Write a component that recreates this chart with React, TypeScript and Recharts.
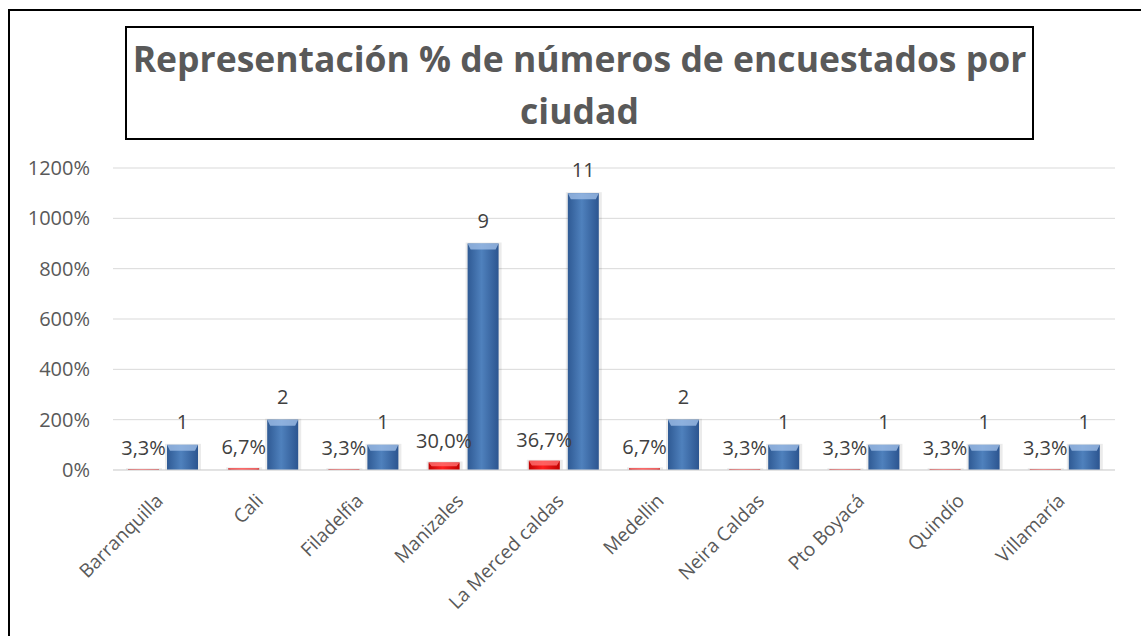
import React from "react";
import {
  Bar,
  BarChart,
  CartesianGrid,
  LabelList,
  XAxis,
  YAxis,
} from "recharts";

const ciudades = [
  "Barranquilla",
  "Cali",
  "Filadelfia",
  "Manizales",
  "La Merced caldas",
  "Medellin",
  "Neira Caldas",
  "Pto Boyacá",
  "Quindío",
  "Villamaría",
];
const porcentaje = [0.033, 0.067, 0.033, 0.3, 0.367, 0.067, 0.033, 0.033, 0.033, 0.033];
const encuestados = [1, 2, 1, 9, 11, 2, 1, 1, 1, 1];
const yTicks = [0, 2, 4, 6, 8, 10, 12];

const data = ciudades.map((ciudad, i) => ({
  ciudad,
  porcentaje: porcentaje[i],
  encuestados: encuestados[i],
}));

const FONT = "'Open Sans', 'Noto Sans', sans-serif";

const pct = (v: number) => (v * 100).toFixed(1).replace(".", ",") + "%";

const BarShape = (props: any) => {
  const { x, y, width, height, gradId, capColor } = props;
  if (!height || height <= 0) return null;
  const cap = Math.min(6, height / 2);
  return (
    <g>
      <rect x={x - 2} y={y - 1} width={width + 5} height={height + 1} fill="#000" opacity={0.08} />
      <rect x={x} y={y} width={width} height={height} fill={`url(#${gradId})`} />
      <path
        d={`M${x},${y} L${x + width},${y} L${x + width - 3},${y + cap} L${x + 3},${y + cap} Z`}
        fill={capColor}
        opacity={0.8}
      />
    </g>
  );
};

const CityTick = (props: any) => {
  const { x, payload } = props;
  const tx = x + 1;
  const ty = 502;
  return (
    <text
      x={tx}
      y={ty}
      transform={`rotate(-45, ${tx}, ${ty})`}
      textAnchor="end"
      fill="#595959"
      fontSize={19}
      fontFamily={FONT}
    >
      {payload.value}
    </text>
  );
};

export default function App() {
  return (
    <div
      style={{
        position: "fixed",
        left: 0,
        top: 0,
        width: 1141,
        height: 636,
        overflow: "hidden",
        background: "#fff",
        fontFamily: FONT,
      }}
    >
      <div
        style={{
          position: "absolute",
          left: 8,
          top: 9,
          width: 1160,
          height: 660,
          border: "2px solid #000",
        }}
      />
      <div style={{ position: "absolute", left: 0, top: 0 }}>
        <BarChart
          width={1141}
          height={636}
          data={data}
          margin={{ top: 168, right: 26, left: 0, bottom: 0 }}
          barSize={31}
          barGap={8}
        >
          <defs>
            <linearGradient id="blueGrad" x1="0" y1="0" x2="1" y2="0">
              <stop offset="0%" stopColor="#2f5a94" />
              <stop offset="45%" stopColor="#4f81bd" />
              <stop offset="100%" stopColor="#2c5590" />
            </linearGradient>
            <linearGradient id="redGrad" x1="0" y1="0" x2="1" y2="0">
              <stop offset="0%" stopColor="#c00000" />
              <stop offset="45%" stopColor="#ff2020" />
              <stop offset="100%" stopColor="#c00000" />
            </linearGradient>
          </defs>
          <CartesianGrid vertical={false} stroke="#d9d9d9" />
          <XAxis
            dataKey="ciudad"
            interval={0}
            tick={<CityTick />}
            tickLine={false}
            axisLine={{ stroke: "#d9d9d9" }}
            height={166}
          />
          <YAxis
            domain={[0, 12]}
            ticks={yTicks}
            tickFormatter={(v: number) => `${v * 100}%`}
            tickLine={false}
            axisLine={false}
            tickSize={0}
            tickMargin={23}
            width={113}
            tick={{ fill: "#595959", fontSize: 20, fontFamily: FONT }}
          />
          <Bar
            dataKey="porcentaje"
            isAnimationActive={false}
            shape={(p: any) => <BarShape {...p} gradId="redGrad" capColor="#ff7070" />}
          >
            <LabelList
              dataKey="porcentaje"
              position="top"
              offset={14}
              formatter={(v: number) => pct(v)}
              fill="#404040"
              fontSize={20}
              fontFamily={FONT}
            />
          </Bar>
          <Bar
            dataKey="encuestados"
            isAnimationActive={false}
            shape={(p: any) => <BarShape {...p} gradId="blueGrad" capColor="#9dbde6" />}
          >
            <LabelList
              dataKey="encuestados"
              position="top"
              offset={16}
              fill="#404040"
              fontSize={20}
              fontFamily={FONT}
            />
          </Bar>
        </BarChart>
      </div>
      <div
        style={{
          position: "absolute",
          left: 125,
          top: 26,
          width: 909,
          height: 114,
          border: "2px solid #000",
          background: "#fff",
          color: "#595959",
          fontWeight: 700,
          fontSize: 35.5,
          lineHeight: "52px",
          textAlign: "center",
          paddingTop: 4,
          boxSizing: "border-box",
          whiteSpace: "nowrap",
        }}
      >
        Representación % de números de encuestados por
        <br />
        ciudad
      </div>
    </div>
  );
}
